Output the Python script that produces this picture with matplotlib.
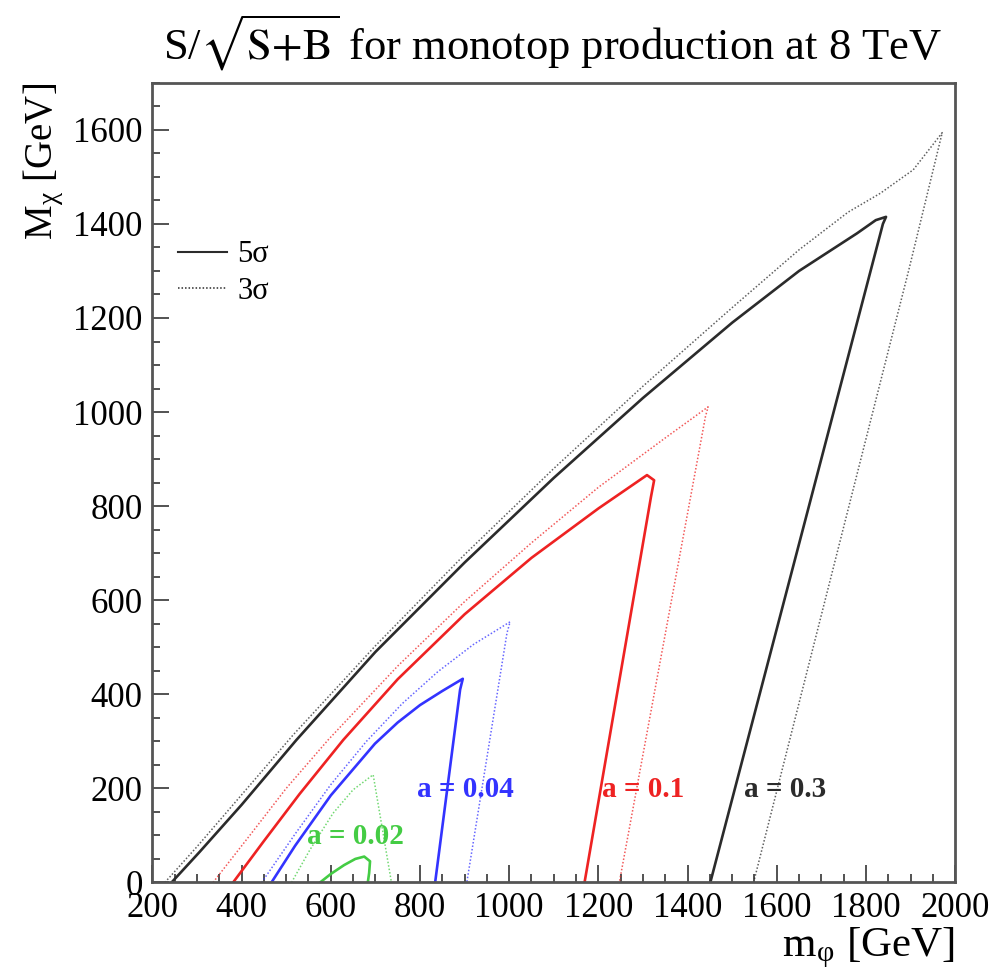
import matplotlib
matplotlib.use("Agg")
import matplotlib.pyplot as plt
from matplotlib.lines import Line2D
from matplotlib.ticker import MultipleLocator

plt.rcParams["font.family"] = ["Liberation Serif", "DejaVu Serif"]
plt.rcParams["mathtext.fontset"] = "stix"

# 5 sigma / 3 sigma contours of S/sqrt(S+B) in the (m_phi, M_chi) plane, GeV
a03_5s_m = [243, 306, 400, 523, 700, 900, 1100, 1300, 1500, 1650, 1780, 1822, 1845, 1838, 1451]
a03_5s_M = [0, 65, 165, 303, 490, 680, 860, 1030, 1190, 1300, 1380, 1408, 1415, 1400, 0]
a03_3s_m = [228, 300, 515, 700, 900, 1100, 1300, 1500, 1650, 1760, 1832, 1906, 1971, 1896, 1548]
a03_3s_M = [0, 76, 313, 503, 697, 880, 1055, 1222, 1345, 1425, 1465, 1515, 1594, 1302, 0]

a01_5s_m = [381, 450, 530, 628, 750, 900, 1050, 1200, 1309, 1325, 1318, 1169]
a01_5s_M = [0, 88, 188, 303, 432, 570, 690, 795, 866, 855, 820, 0]
a01_3s_m = [336, 420, 500, 594, 750, 900, 1050, 1200, 1350, 1446, 1440, 1247]
a01_3s_M = [0, 102, 200, 303, 460, 597, 722, 840, 945, 1011, 990, 0]

a004_5s_m = [467, 520, 600, 699, 750, 800, 850, 896, 890, 834]
a004_5s_M = [0, 78, 185, 295, 340, 377, 407, 433, 410, 0]
a004_3s_m = [445, 520, 600, 680, 760, 840, 920, 1002, 995, 905]
a004_3s_M = [0, 103, 208, 300, 380, 448, 506, 554, 530, 0]

a002_5s_m = [576, 600, 630, 655, 675, 688, 686, 683]
a002_5s_M = [0, 18, 37, 50, 55, 45, 20, 0]
a002_3s_m = [512, 553, 605, 650, 695, 736]
a002_3s_M = [0, 69, 147, 197, 229, 0]

colors = {"0.3": "#2b2b2b", "0.1": "#ee2222", "0.04": "#3333ff", "0.02": "#44cc44"}
contours = [
    ("0.3", a03_5s_m, a03_5s_M, a03_3s_m, a03_3s_M),
    ("0.1", a01_5s_m, a01_5s_M, a01_3s_m, a01_3s_M),
    ("0.04", a004_5s_m, a004_5s_M, a004_3s_m, a004_3s_M),
    ("0.02", a002_5s_m, a002_5s_M, a002_3s_m, a002_3s_M),
]

label_text = ["a = 0.02", "a = 0.04", "a = 0.1", "a = 0.3"]
label_m = [656, 901, 1300, 1619]
label_M = [97, 197, 197, 197]
label_key = ["0.02", "0.04", "0.1", "0.3"]

fig = plt.figure(figsize=(9.96, 9.74), dpi=100)
ax = fig.add_axes([0.153, 0.094, 0.806, 0.821])

for key, m5, M5, m3, M3 in contours:
    c = colors[key]
    ax.plot(m3, M3, color=c, lw=1.1, ls=(0, (1, 1.3)), alpha=0.75)
    ax.plot(m5, M5, color=c, lw=1.9)

for t, xm, yM, k in zip(label_text, label_m, label_M, label_key):
    ax.text(xm, yM, t, color=colors[k], fontsize=21, fontweight="bold",
            ha="center", va="center")

ax.set_xlim(200, 2000)
ax.set_ylim(0, 1700)
ax.xaxis.set_major_locator(MultipleLocator(200))
ax.xaxis.set_minor_locator(MultipleLocator(50))
ax.yaxis.set_major_locator(MultipleLocator(200))
ax.yaxis.set_minor_locator(MultipleLocator(50))
ax.tick_params(which="both", direction="in", top=False, right=False,
               labelsize=25, color="#444444", width=1.3, pad=7)
ax.tick_params(which="major", length=12)
ax.tick_params(which="minor", length=6)
for s in ax.spines.values():
    s.set_color("#555555")
    s.set_linewidth(2)

ax.set_xlabel(r"m$_\mathregular{φ}$ [GeV]", fontsize=31, loc="right", labelpad=0)
ax.set_ylabel(r"M$_\mathregular{χ}$ [GeV]", fontsize=28, loc="top", labelpad=6)
fig.suptitle(r"S/$\sqrt{\mathrm{S{+}B}}$ for monotop production at 8 TeV",
             fontsize=32, x=0.555, y=0.987)

handles = [Line2D([], [], color="#2b2b2b", lw=1.5),
           Line2D([], [], color="#2b2b2b", lw=1.1, ls=(0, (1, 1.3)))]
ax.legend(handles, ["5σ", "3σ"], loc="upper left",
          bbox_to_anchor=(0.0315, 0.803), frameon=False, fontsize=22,
          borderpad=0, borderaxespad=0, handlelength=1.6, handletextpad=0.35,
          labelspacing=0.25)

fig.savefig("out.png", dpi=100)
